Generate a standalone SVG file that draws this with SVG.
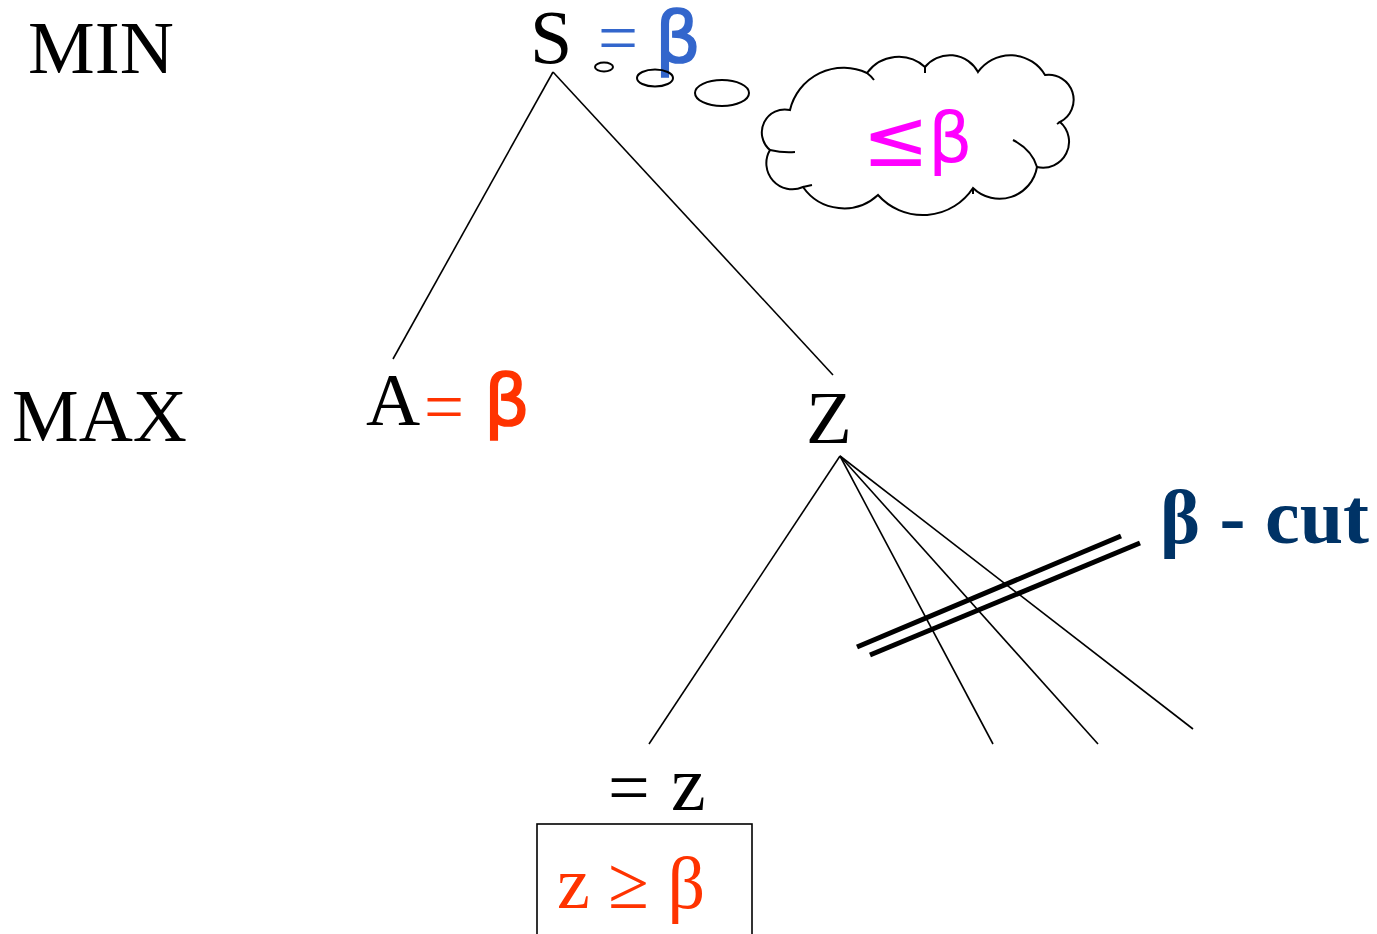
<svg xmlns="http://www.w3.org/2000/svg" width="1377" height="934" viewBox="0 0 1377 934">
<style>
.serif{font-family:"Liberation Serif","Times New Roman",serif}
.sans{font-family:"DejaVu Sans","Liberation Sans",sans-serif}
.edge{stroke:#000;stroke-width:1.6;fill:none}
.cut{stroke:#000;stroke-width:5;fill:none}
.outline{stroke:#000;stroke-width:2;fill:none}
.blue{fill:#3366CC}
.red{fill:#FF3300}
</style>
<rect width="1377" height="934" fill="#fff"/>
<g id="labels">
<text class="serif" x="28" y="73" font-size="75">MIN</text>
<text class="serif" x="12" y="441" font-size="75">MAX</text>
</g>
<g id="connectors">
<line class="edge" x1="553" y1="72" x2="393" y2="359"/>
<line class="edge" x1="553" y1="72" x2="833" y2="375"/>
<line class="edge" x1="840" y1="456" x2="649" y2="744"/>
<line class="edge" x1="840" y1="456" x2="993" y2="744"/>
<line class="edge" x1="840" y1="456" x2="1098" y2="744"/>
<line class="edge" x1="840" y1="456" x2="1193" y2="729"/>
<line class="cut" x1="857" y1="647" x2="1121" y2="536"/>
<line class="cut" x1="870" y1="655" x2="1140" y2="543"/>
</g>
<g id="node-S">
<text class="serif" x="530" y="63" font-size="76">S</text>
<text class="serif blue" x="598" y="62" font-size="71">=</text>
<text class="sans blue" x="655" y="62" font-size="72" stroke="#3366CC" stroke-width="1.6">β</text>
</g>
<g id="thought">
<ellipse class="outline" cx="604" cy="67" rx="9" ry="4.5"/>
<ellipse class="outline" cx="655" cy="78" rx="18" ry="8.5"/>
<ellipse class="outline" cx="722" cy="93" rx="27" ry="13"/>
<path class="outline" d="M790,110 A55,55 0 0 1 867,73 A39,39 0 0 1 925,67 A32,32 0 0 1 978,72 A40,40 0 0 1 1045,75 A25,25 0 0 1 1060,122 A26,26 0 0 1 1037,167 A38,38 0 0 1 973,188 A60,60 0 0 1 878,195 A50,50 0 0 1 803,187 A26,26 0 0 1 770,150 A23,23 0 0 1 790,110 Z"/>
<path class="outline" d="M770,150 Q783,153 795,152 M1013,140 Q1032,150 1037,167 M867,73 Q871,76 874,80 M925,67 L925,73 M1060,122 L1057,124 M803,187 L812,185 M973,188 L973,194"/>
<text class="sans" x="862" y="166" font-size="80" fill="#FF00FF">≤</text>
<text class="sans" x="928" y="162" font-size="70" fill="#FF00FF">β</text>
</g>
<g id="node-A">
<text class="serif" x="366" y="425" font-size="75">A</text>
<text class="serif red" x="424" y="431" font-size="71">=</text>
<text class="sans red" x="484" y="425" font-size="72" stroke="#FF3300" stroke-width="1.6">β</text>
</g>
<g id="node-Z">
<text class="serif" x="806" y="443" font-size="75">Z</text>
</g>
<g id="beta-cut">
<text class="serif" x="1160" y="543" font-size="76" font-weight="bold" fill="#003366">β<tspan font-size="78"> - cut</tspan></text>
</g>
<g id="leaf">
<text class="serif" x="608" y="812" font-size="74">=</text>
<text class="serif" x="671" y="810" font-size="78">z</text>
<rect x="537" y="824" width="215" height="112" fill="none" stroke="#000" stroke-width="1.6"/>
<text class="serif red" x="557" y="908" font-size="74">z ≥ β</text>
</g>
</svg>
